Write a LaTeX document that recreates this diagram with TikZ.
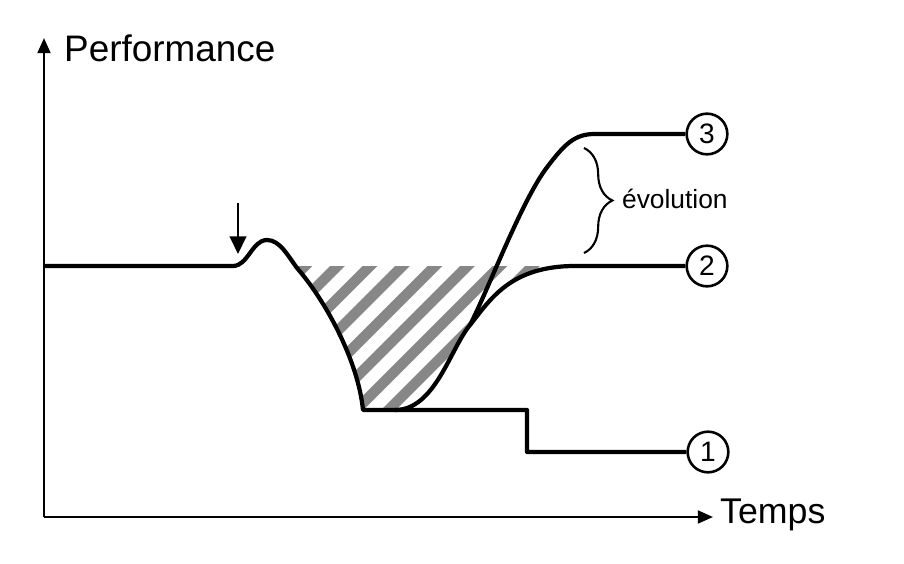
\documentclass[tikz,border=0pt]{standalone}
\usepackage{fontspec}
\setmainfont{Liberation Sans}
\usetikzlibrary{arrows.meta,decorations.pathreplacing}

\begin{document}
\begin{tikzpicture}[x=0.03cm, y=-0.03cm,
                    axis/.style = {line width=2.1pt, -{Triangle[length=13pt,width=11pt]}},
                    event/.style = {line width=2.4pt, -{Triangle[length=15pt,width=14pt]}},
                    curve/.style = {line width=3.6pt, line join=round},
                    stripe/.style = {line width=9pt, draw=black!47},
                    num/.style = {draw, circle, line width=2.2pt, minimum size=1.22cm, inner sep=0pt, font=\fontsize{24}{24}\selectfont}]
    \useasboundingbox (0,0) rectangle (904,563);

    % axes
    \coordinate (origin) at (44,517);
    \coordinate (ytip) at (44,38);
    \coordinate (xtip) at (713,517);
    \draw[axis] (origin) -- (ytip);
    \draw[axis] (origin) -- (xtip);
    \node[anchor=west, font=\fontsize{31.5}{31.5}\selectfont] (perf) at (60,48) {Performance};
    \node[anchor=west, font=\fontsize{30.5}{30.5}\selectfont] (temps) at (716,515) {Temps};

    % end circles
    \node[num] (c1) at (708,452) {1};
    \node[num] (c2) at (707,266) {2};
    \node[num] (c3) at (707,134) {3};

    % hatched loss
    \begin{scope}
        \clip (297,266) -- (297,268) .. controls (325,300) and (358,360) .. (363,410)
              -- (395,410) .. controls (435,410) and (450,349) .. (470,325)
              .. controls (490,300) and (510,266) .. (575,266) -- cycle;
        \foreach \c in {305,337.5,...,600}
            \draw[stripe] ({\c-154},420) -- ({\c+20},246);
    \end{scope}

    % curves
    \coordinate (bend) at (470,325);
    \draw[curve] (44,266) -- (233,266) .. controls (248,266) and (252,240) .. (267,240)
        .. controls (280,240) and (288,256) .. (297,268)
        .. controls (325,300) and (358,360) .. (363,410) -- (527,410) -- (527,452) -- (c1);
    \draw[curve] (395,410) .. controls (435,410) and (450,349) .. (bend)
        .. controls (490,300) and (510,266) .. (575,266) -- (c2);
    \draw[curve] (bend) .. controls (488,290) and (520,205) .. (545,170)
        .. controls (565,143) and (575,134) .. (595,134) -- (c3);

    % event arrow
    \coordinate (evtop) at (238,203);
    \coordinate (evtip) at (238,254);
    \draw[event] (evtop) -- (evtip);

    % brace
    \coordinate (btop) at (584,148);
    \coordinate (bbot) at (584,253);
    \draw[line width=1.8pt, decorate, decoration={brace, amplitude=0.85cm}] (btop) -- (bbot);
    \node[anchor=west, font=\fontsize{22.5}{22.5}\selectfont] (evol) at (618,199) {évolution};
\end{tikzpicture}
\end{document}
